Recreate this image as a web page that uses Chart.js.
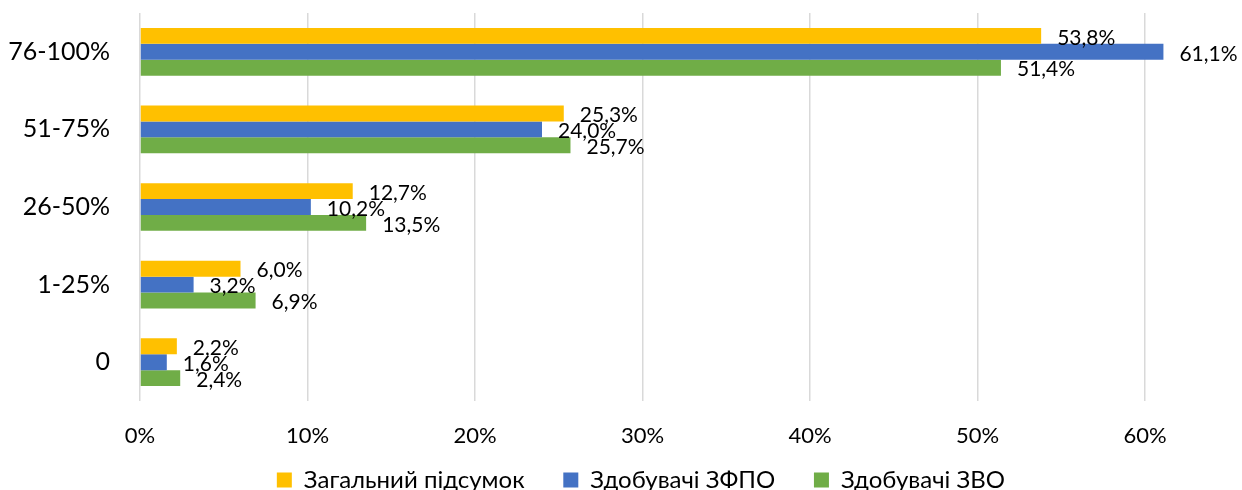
<!DOCTYPE html>
<html lang="uk">
<head>
<meta charset="utf-8">
<title>Розподіл здобувачів</title>
<script src="https://cdn.jsdelivr.net/npm/chart.js@4/dist/chart.umd.min.js"></script>
<style>
    body { margin: 0; background: #fff; overflow: hidden; }
    #wrap { position: absolute; left: 0; top: 0; width: 1332px; height: 490px; }
</style>
</head>
<body>
<div id="wrap"><canvas id="myChart"></canvas></div>
<script>
const categories = ['76-100%', '51-75%', '26-50%', '1-25%', '0'];
const seriesNames = ['Загальний підсумок', 'Здобувачі ЗФПО', 'Здобувачі ЗВО'];
const totalValues = [53.8, 25.3, 12.7, 6.0, 2.2];
const zfpoValues = [61.1, 24.0, 10.2, 3.2, 1.6];
const zvoValues = [51.4, 25.7, 13.5, 6.9, 2.4];
const xTicks = [0, 10, 20, 30, 40, 50, 60, 70];

const colors = ['#FFC000', '#4472C4', '#70AD47'];
const fontFamily = "Lato, 'Noto Sans', sans-serif";

// value labels to the right of each bar, comma as decimal separator
const barLabels = {
    id: 'barLabels',
    afterDatasetsDraw(chart) {
        const ctx = chart.ctx;
        ctx.save();
        ctx.font = `21px ${fontFamily}`;
        ctx.fillStyle = '#000';
        ctx.textAlign = 'left';
        ctx.textBaseline = 'middle';
        chart.data.datasets.forEach((ds, i) => {
            const meta = chart.getDatasetMeta(i);
            meta.data.forEach((bar, j) => {
                const text = ds.data[j].toFixed(1).replace('.', ',') + '%';
                ctx.fillText(text, bar.x + 16, bar.y + 2);
            });
        });
        ctx.restore();
    }
};

document.addEventListener('DOMContentLoaded', () => {
    const allValues = [totalValues, zfpoValues, zvoValues];
    const datasets = seriesNames.map((name, i) => ({
        label: name,
        data: allValues[i],
        backgroundColor: colors[i],
        borderWidth: 0,
        categoryPercentage: 0.615,
        barPercentage: 1
    }));

    const ctx = document.getElementById('myChart').getContext('2d');
    new Chart(ctx, {
        type: 'bar',
        data: { labels: categories, datasets: datasets },
        options: {
            indexAxis: 'y',
            responsive: true,
            maintainAspectRatio: false,
            animation: false,
            layout: { padding: { top: 13, left: 0, right: 19.5, bottom: -12 } },
            plugins: {
                legend: {
                    position: 'bottom',
                    labels: {
                        boxWidth: 15,
                        boxHeight: 15,
                        padding: 8,
                        color: '#000',
                        font: { family: fontFamily, size: 24 },
                        generateLabels: chart => {
                            const items = Chart.defaults.plugins.legend.labels.generateLabels(chart);
                            // extra room between legend entries
                            items.forEach(item => { item.text = item.text + '     '; });
                            return items;
                        }
                    }
                },
                tooltip: { enabled: false }
            },
            scales: {
                x: {
                    min: 0,
                    max: 70,
                    afterBuildTicks: scale => {
                        scale.ticks = xTicks.map(v => ({ value: v }));
                    },
                    afterFit: scale => {
                        scale.height = 59;
                        scale.paddingLeft = 0;
                        scale.paddingRight = 0;
                    },
                    ticks: {
                        padding: 22,
                        color: '#000',
                        font: { family: fontFamily, size: 22 },
                        callback: v => v + '%'
                    },
                    grid: { color: '#D9D9D9', lineWidth: 1.5, drawTicks: false },
                    border: { display: false }
                },
                y: {
                    afterFit: scale => {
                        scale.width = 140;
                        scale.paddingTop = 0;
                        scale.paddingBottom = 0;
                    },
                    ticks: {
                        padding: 30,
                        color: '#000',
                        font: { family: fontFamily, size: 25 }
                    },
                    grid: { display: false, drawTicks: false },
                    border: { display: false }
                }
            }
        },
        plugins: [barLabels]
    });
});
</script>
</body>
</html>
